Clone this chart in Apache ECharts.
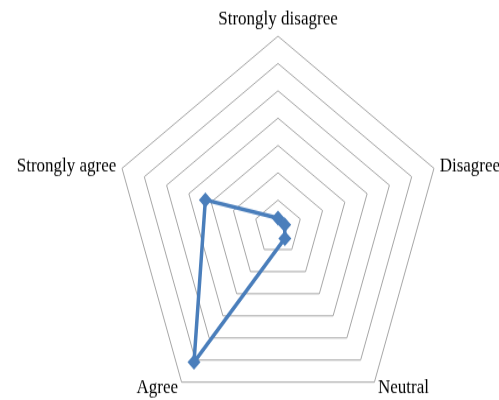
<!DOCTYPE html>
<html>
<head>
<meta charset="utf-8">
<script src="https://cdn.jsdelivr.net/npm/echarts@6/dist/echarts.min.js"></script>
<style>
  html, body { margin: 0; padding: 0; background: #fff; width: 499px; height: 400px; }
  /* the reference is stretched vertically, so draw flatter and stretch */
  #main { width: 499px; height: 343px; transform: scale(1, 1.1662); transform-origin: 0 0; }
</style>
</head>
<body>
<div id="main"></div>
<script>
// indicators in ECharts order (counterclockwise from the top)
const categories = ["Strongly disagree", "Strongly agree", "Agree", "Neutral", "Disagree"];
const values = [1.7, 16.3, 30.5, 2.5, 1.5];
const maxValue = 35;
const ringCount = 7;

const chart = echarts.init(document.getElementById("main"));

chart.setOption({
  animation: false,
  radar: {
    center: [278, 195],
    radius: 164,
    shape: "polygon",
    startAngle: 90,
    splitNumber: ringCount,
    indicator: categories.map(name => ({ name: name, min: 0, max: maxValue })),
    axisName: {
      color: "#000",
      fontFamily: "Liberation Serif",
      fontSize: 17
    },
    nameGap: 6,
    axisLine: { show: false },
    axisTick: { show: false },
    splitArea: { show: false },
    splitLine: { lineStyle: { color: "#a6a6a6", width: 1 } }
  },
  series: [
    {
      type: "radar",
      symbol: "diamond",
      symbolSize: 13,
      lineStyle: { color: "#4a7ebb", width: 3.5 },
      itemStyle: { color: "#4a7ebb" },
      data: [{ value: values }]
    }
  ]
});
</script>
</body>
</html>
